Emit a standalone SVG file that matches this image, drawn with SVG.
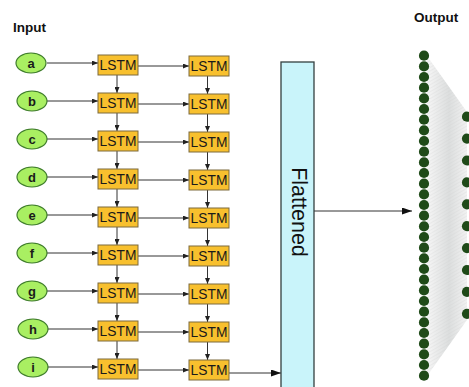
<svg xmlns="http://www.w3.org/2000/svg" width="469" height="387" viewBox="0 0 469 387">
<style>
.t{font-family:"Liberation Sans",Arial,sans-serif}
.title{font-size:13.5px;font-weight:bold;fill:#111}
.inp ellipse{fill:#a9ef62;stroke:#3f7d2c;stroke-width:1.2}
.inp text{font-size:13px;font-weight:bold;fill:#1a1a1a;text-anchor:middle}
.lstm rect{fill:#f8c02e;stroke:#7d6a3c;stroke-width:1}
.lstm text{font-size:13.8px;fill:#1a1a1a;text-anchor:middle}
.c line{stroke:#333;stroke-width:1}
.dot{fill:#1f4a18}
</style>
<defs>
<marker id="ah" markerWidth="6" markerHeight="5" refX="6" refY="2.5" orient="auto" markerUnits="userSpaceOnUse"><path d="M0,0 L6,2.5 L0,5 z" fill="#222"/></marker>
<marker id="ahb" markerWidth="10" markerHeight="7" refX="10" refY="3.5" orient="auto" markerUnits="userSpaceOnUse"><path d="M0,0 L10,3.5 L0,7 z" fill="#111"/></marker>
<linearGradient id="fan" x1="0" y1="0" x2="1" y2="0">
<stop offset="0" stop-color="#f6f6f6"/>
<stop offset="0.55" stop-color="#dcdede"/>
<stop offset="1" stop-color="#f2f2f2"/>
</linearGradient>
<pattern id="hatch" width="3" height="3" patternUnits="userSpaceOnUse" patternTransform="rotate(60)">
<line x1="0" y1="0" x2="0" y2="3" stroke="#c8c8c8" stroke-width="0.8"/>
</pattern>
</defs>
<rect width="469" height="387" fill="#fff"/>
<text class="t title" x="13" y="32">Input</text>
<text class="t title" x="414" y="22">Output</text>

<g id="fanmesh">
<polygon points="427,56 467,112 467,320 427,376" fill="url(#fan)"/>
<polygon points="427,56 467,112 467,320 427,376" fill="url(#hatch)" opacity="0.5"/>
</g>

<g class="c" id="connectors">
<line x1="47" y1="63" x2="98" y2="63" marker-end="url(#ah)"/>
<line x1="47" y1="101" x2="98" y2="101" marker-end="url(#ah)"/>
<line x1="47" y1="139" x2="98" y2="139" marker-end="url(#ah)"/>
<line x1="47" y1="177" x2="98" y2="177" marker-end="url(#ah)"/>
<line x1="47" y1="215" x2="98" y2="215" marker-end="url(#ah)"/>
<line x1="47" y1="253" x2="98" y2="253" marker-end="url(#ah)"/>
<line x1="47" y1="291" x2="98" y2="291" marker-end="url(#ah)"/>
<line x1="47" y1="329" x2="98" y2="329" marker-end="url(#ah)"/>
<line x1="47" y1="367" x2="98" y2="367" marker-end="url(#ah)"/>

<line x1="138" y1="66" x2="189" y2="66" marker-end="url(#ah)"/>
<line x1="138" y1="104" x2="189" y2="104" marker-end="url(#ah)"/>
<line x1="138" y1="142" x2="189" y2="142" marker-end="url(#ah)"/>
<line x1="138" y1="180" x2="189" y2="180" marker-end="url(#ah)"/>
<line x1="138" y1="218" x2="189" y2="218" marker-end="url(#ah)"/>
<line x1="138" y1="256" x2="189" y2="256" marker-end="url(#ah)"/>
<line x1="138" y1="294" x2="189" y2="294" marker-end="url(#ah)"/>
<line x1="138" y1="332" x2="189" y2="332" marker-end="url(#ah)"/>
<line x1="138" y1="370" x2="189" y2="370" marker-end="url(#ah)"/>

<line x1="117" y1="75" x2="117" y2="93" marker-end="url(#ah)"/>
<line x1="117" y1="113" x2="117" y2="131" marker-end="url(#ah)"/>
<line x1="117" y1="151" x2="117" y2="169" marker-end="url(#ah)"/>
<line x1="117" y1="189" x2="117" y2="207" marker-end="url(#ah)"/>
<line x1="117" y1="227" x2="117" y2="245" marker-end="url(#ah)"/>
<line x1="117" y1="265" x2="117" y2="283" marker-end="url(#ah)"/>
<line x1="117" y1="303" x2="117" y2="321" marker-end="url(#ah)"/>
<line x1="117" y1="341" x2="117" y2="359" marker-end="url(#ah)"/>

<line x1="207.5" y1="76" x2="207.5" y2="94" marker-end="url(#ah)"/>
<line x1="207.5" y1="114" x2="207.5" y2="132" marker-end="url(#ah)"/>
<line x1="207.5" y1="152" x2="207.5" y2="170" marker-end="url(#ah)"/>
<line x1="207.5" y1="190" x2="207.5" y2="208" marker-end="url(#ah)"/>
<line x1="207.5" y1="228" x2="207.5" y2="246" marker-end="url(#ah)"/>
<line x1="207.5" y1="266" x2="207.5" y2="284" marker-end="url(#ah)"/>
<line x1="207.5" y1="304" x2="207.5" y2="322" marker-end="url(#ah)"/>
<line x1="207.5" y1="342" x2="207.5" y2="360" marker-end="url(#ah)"/>

<line x1="229" y1="373" x2="281" y2="373" marker-end="url(#ahb)"/>
<line x1="314" y1="211" x2="412" y2="211" marker-end="url(#ahb)"/>
</g>

<g id="inputs" class="t">
<g class="inp" id="in-a"><ellipse cx="31" cy="63" rx="15" ry="10"/><text x="31" y="67.5">a</text></g>
<g class="inp" id="in-b"><ellipse cx="32" cy="101" rx="15" ry="10"/><text x="32" y="105.5">b</text></g>
<g class="inp" id="in-c"><ellipse cx="32" cy="139" rx="15" ry="10"/><text x="32" y="143.5">c</text></g>
<g class="inp" id="in-d"><ellipse cx="32" cy="177" rx="15" ry="10"/><text x="32" y="181.5">d</text></g>
<g class="inp" id="in-e"><ellipse cx="32" cy="215" rx="15" ry="10"/><text x="32" y="219.5">e</text></g>
<g class="inp" id="in-f"><ellipse cx="32" cy="253" rx="15" ry="10"/><text x="32" y="257.5">f</text></g>
<g class="inp" id="in-g"><ellipse cx="32" cy="291" rx="15" ry="10"/><text x="32" y="295.5">g</text></g>
<g class="inp" id="in-h"><ellipse cx="33" cy="329" rx="15" ry="10"/><text x="33" y="333.5">h</text></g>
<g class="inp" id="in-i"><ellipse cx="33" cy="367" rx="15" ry="10"/><text x="33" y="371.5">i</text></g>
</g>

<g id="lstm1" class="t">
<g class="lstm" id="l1-a"><rect x="98" y="55" width="40" height="20"/><text x="118" y="70">LSTM</text></g>
<g class="lstm" id="l1-b"><rect x="98" y="93" width="40" height="20"/><text x="118" y="108">LSTM</text></g>
<g class="lstm" id="l1-c"><rect x="98" y="131" width="40" height="20"/><text x="118" y="146">LSTM</text></g>
<g class="lstm" id="l1-d"><rect x="98" y="169" width="40" height="20"/><text x="118" y="184">LSTM</text></g>
<g class="lstm" id="l1-e"><rect x="98" y="207" width="40" height="20"/><text x="118" y="222">LSTM</text></g>
<g class="lstm" id="l1-f"><rect x="98" y="245" width="40" height="20"/><text x="118" y="260">LSTM</text></g>
<g class="lstm" id="l1-g"><rect x="98" y="283" width="40" height="20"/><text x="118" y="298">LSTM</text></g>
<g class="lstm" id="l1-h"><rect x="98" y="321" width="40" height="20"/><text x="118" y="336">LSTM</text></g>
<g class="lstm" id="l1-i"><rect x="98" y="359" width="40" height="20"/><text x="118" y="374">LSTM</text></g>
</g>

<g id="lstm2" class="t">
<g class="lstm" id="l2-a"><rect x="189" y="56" width="40" height="20"/><text x="209" y="71">LSTM</text></g>
<g class="lstm" id="l2-b"><rect x="189" y="94" width="40" height="20"/><text x="209" y="109">LSTM</text></g>
<g class="lstm" id="l2-c"><rect x="189" y="132" width="40" height="20"/><text x="209" y="147">LSTM</text></g>
<g class="lstm" id="l2-d"><rect x="189" y="170" width="40" height="20"/><text x="209" y="185">LSTM</text></g>
<g class="lstm" id="l2-e"><rect x="189" y="208" width="40" height="20"/><text x="209" y="223">LSTM</text></g>
<g class="lstm" id="l2-f"><rect x="189" y="246" width="40" height="20"/><text x="209" y="261">LSTM</text></g>
<g class="lstm" id="l2-g"><rect x="189" y="284" width="40" height="20"/><text x="209" y="299">LSTM</text></g>
<g class="lstm" id="l2-h"><rect x="189" y="322" width="40" height="20"/><text x="209" y="337">LSTM</text></g>
<g class="lstm" id="l2-i"><rect x="189" y="360" width="40" height="20"/><text x="209" y="375">LSTM</text></g>
</g>

<g id="flattened">
<rect x="281" y="62" width="33" height="340" fill="#c9f4fa" stroke="#33403f" stroke-width="1.3"/>
<text class="t" transform="translate(291.5,212) rotate(90)" text-anchor="middle" font-size="21.5" fill="#111">Flattened</text>
</g>

<g id="output-left">
<circle class="dot" cx="424" cy="55.7" r="5.1"/><circle class="dot" cx="424" cy="66.4" r="5.1"/><circle class="dot" cx="424" cy="77" r="5.1"/><circle class="dot" cx="424" cy="87.7" r="5.1"/><circle class="dot" cx="424" cy="98.4" r="5.1"/><circle class="dot" cx="424" cy="109" r="5.1"/><circle class="dot" cx="424" cy="119.7" r="5.1"/><circle class="dot" cx="424" cy="130.4" r="5.1"/><circle class="dot" cx="424" cy="141" r="5.1"/><circle class="dot" cx="424" cy="151.7" r="5.1"/><circle class="dot" cx="424" cy="162.4" r="5.1"/><circle class="dot" cx="424" cy="173" r="5.1"/><circle class="dot" cx="424" cy="183.7" r="5.1"/><circle class="dot" cx="424" cy="194.4" r="5.1"/><circle class="dot" cx="424" cy="205" r="5.1"/><circle class="dot" cx="424" cy="215.7" r="5.1"/><circle class="dot" cx="424" cy="226.4" r="5.1"/><circle class="dot" cx="424" cy="237" r="5.1"/><circle class="dot" cx="424" cy="247.7" r="5.1"/><circle class="dot" cx="424" cy="258.4" r="5.1"/><circle class="dot" cx="424" cy="269" r="5.1"/><circle class="dot" cx="424" cy="279.7" r="5.1"/><circle class="dot" cx="424" cy="290.4" r="5.1"/><circle class="dot" cx="424" cy="301" r="5.1"/><circle class="dot" cx="424" cy="311.7" r="5.1"/><circle class="dot" cx="424" cy="322.4" r="5.1"/><circle class="dot" cx="424" cy="333" r="5.1"/><circle class="dot" cx="424" cy="343.7" r="5.1"/><circle class="dot" cx="424" cy="354.4" r="5.1"/><circle class="dot" cx="424" cy="365" r="5.1"/><circle class="dot" cx="424" cy="375.7" r="5.1"/>
</g>
<g id="output-right">
<circle class="dot" cx="467" cy="116.7" r="5.1"/><circle class="dot" cx="467" cy="138.6" r="5.1"/><circle class="dot" cx="467" cy="160.5" r="5.1"/><circle class="dot" cx="467" cy="182.4" r="5.1"/><circle class="dot" cx="467" cy="204.3" r="5.1"/><circle class="dot" cx="467" cy="226.2" r="5.1"/><circle class="dot" cx="467" cy="248.1" r="5.1"/><circle class="dot" cx="467" cy="270" r="5.1"/><circle class="dot" cx="467" cy="291.9" r="5.1"/><circle class="dot" cx="467" cy="313.8" r="5.1"/>
</g>
</svg>
